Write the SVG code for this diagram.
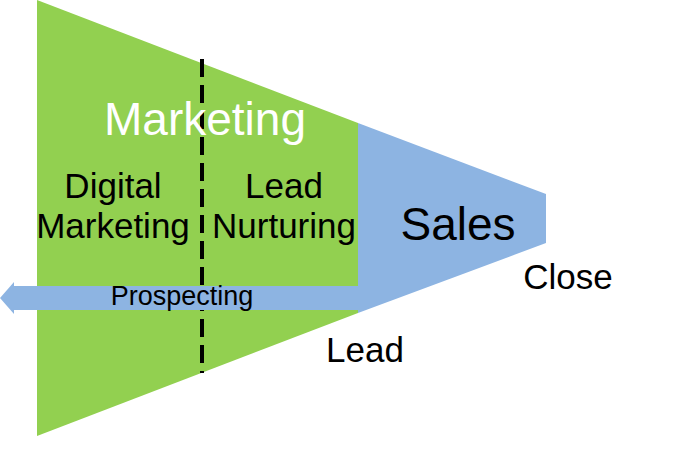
<svg xmlns="http://www.w3.org/2000/svg" width="700" height="449" viewBox="0 0 700 449">
  <style>
    .t { font-family: "Liberation Sans", Arial, sans-serif; text-anchor: middle; fill: #000; }
    .green { fill: #92D050; }
    .blue { fill: #8DB4E2; }
  </style>
  <rect width="700" height="449" fill="#ffffff"/>
  <g id="sales">
    <polygon class="blue" points="358,123 546,194 546,243 358,313"/>
  </g>
  <g id="marketing">
    <polygon class="green" points="37,0 358,123 358,313 37,436"/>
  </g>
  <g id="divider">
    <line x1="202" y1="59" x2="202" y2="373" stroke="#000" stroke-width="4" stroke-dasharray="18,8"/>
  </g>
  <g id="prospecting">
    <polygon class="blue" points="0,298 14,282 14,286 360,286 360,310 14,310 14,314"/>
    <text class="t" x="182" y="305" font-size="27">Prospecting</text>
  </g>
  <g id="labels">
    <text class="t" x="205" y="135" font-size="46" style="fill:#fff">Marketing</text>
    <text class="t" x="113" y="198" font-size="35">Digital</text>
    <text class="t" x="113" y="238" font-size="35">Marketing</text>
    <text class="t" x="284" y="198" font-size="35">Lead</text>
    <text class="t" x="284" y="238" font-size="35">Nurturing</text>
    <text class="t" x="458" y="240" font-size="46">Sales</text>
    <text class="t" x="568" y="289" font-size="35">Close</text>
    <text class="t" x="365" y="362" font-size="35">Lead</text>
  </g>
</svg>
